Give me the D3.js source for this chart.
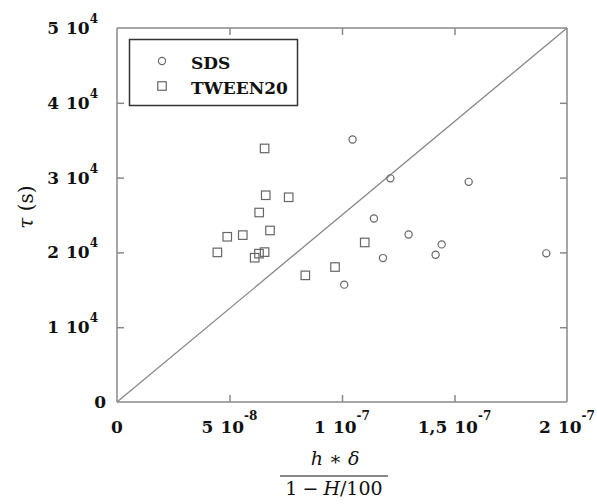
<!DOCTYPE html>
<html><head><meta charset="utf-8">
<script src="https://cdn.jsdelivr.net/npm/d3@7"></script>
<style>
body{margin:0;background:#fff;}
text{font-family:"DejaVu Serif","Liberation Serif",serif;fill:#111;}
.b{font-weight:bold;}
</style></head>
<body><svg id="c" width="597" height="504"></svg>
<script>
// SDS (circles)
const sdsX = [1.047e-7,1.215e-7,1.142e-7,1.296e-7,1.443e-7,1.416e-7,1.182e-7,1.010e-7,1.563e-7,1.908e-7];
const sdsY = [3.51e4,2.99e4,2.453e4,2.24e4,2.107e4,1.969e4,1.924e4,1.569e4,2.943e4,1.987e4];
// TWEEN20 (squares)
const tweenX = [0.656e-7,0.661e-7,0.763e-7,0.632e-7,0.490e-7,0.559e-7,0.680e-7,0.446e-7,0.631e-7,0.656e-7,0.612e-7,0.837e-7,1.101e-7,0.969e-7];
const tweenY = [3.39e4,2.764e4,2.737e4,2.533e4,2.209e4,2.231e4,2.293e4,2.0e4,1.983e4,2.004e4,1.929e4,1.693e4,2.133e4,1.804e4];
const xTicks = [0,5e-8,1e-7,1.5e-7,2e-7];
const xTickMant = ["0","5","1","1,5","2"];
const xTickExp = ["","-8","-7","-7","-7"];
const yTicks = [0,1e4,2e4,3e4,4e4,5e4];
const yTickMant = ["0","1","2","3","4","5"];
const yTickExp = ["","4","4","4","4","4"];
const legendLabels = ["SDS","TWEEN20"];
const diagLine = [[0,0],[2e-7,5e4]];

const svg = d3.select("#c");
const L=117,R=567,T=28,B=402;
const x = d3.scaleLinear().domain([0,2e-7]).range([L,R]);
const y = d3.scaleLinear().domain([0,5e4]).range([B,T]);
const axisCol="#888", markCol="#666";

// frame axes with inward ticks
const gB = svg.append("g").attr("transform",`translate(0,${B})`)
  .call(d3.axisBottom(x).tickValues(xTicks.slice(1,-1)).tickSize(-7).tickFormat(""));
const gT = svg.append("g").attr("transform",`translate(0,${T})`)
  .call(d3.axisTop(x).tickValues(xTicks.slice(1,-1)).tickSize(-7).tickFormat(""));
const gL = svg.append("g").attr("transform",`translate(${L},0)`)
  .call(d3.axisLeft(y).tickValues(yTicks.slice(1,-1)).tickSize(-7).tickFormat(""));
const gR = svg.append("g").attr("transform",`translate(${R},0)`)
  .call(d3.axisRight(y).tickValues(yTicks.slice(1,-1)).tickSize(-7).tickFormat(""));
[gB,gT,gL,gR].forEach(g=>{
  g.selectAll("path,line").attr("stroke",axisCol).attr("stroke-width",1.5);
  g.select(".domain").attr("d", g===gB||g===gT ? `M${L},0H${R}` : `M0,${T}V${B}`);
});

function label(t, mant, exp, dySup){
  t.append("tspan").text(mant);
  if(exp){
    t.append("tspan").attr("dx",7).text("10");
    t.append("tspan").attr("dy",dySup).style("font-size","12px").text(exp);
  }
}
// tick labels
xTicks.forEach((v,i)=>{
  const t = svg.append("text").attr("class","b").attr("x",x(v)).attr("y",433)
    .attr("text-anchor","middle").style("font-size","17px");
  label(t, xTickMant[i], xTickExp[i], -13);
});
yTicks.forEach((v,i)=>{
  const t = svg.append("text").attr("class","b").attr("x", yTickExp[i]?98:106).attr("y",y(v)+6)
    .attr("text-anchor","end").style("font-size","17px");
  label(t, yTickMant[i], yTickExp[i], -11);
});

// diagonal
svg.append("line").attr("x1",x(diagLine[0][0])).attr("y1",y(diagLine[0][1]))
  .attr("x2",x(diagLine[1][0])).attr("y2",y(diagLine[1][1]))
  .attr("stroke",axisCol).attr("stroke-width",1.3);

// points
svg.append("g").selectAll("circle").data(sdsX.map((v,i)=>[v,sdsY[i]])).join("circle")
  .attr("cx",d=>x(d[0])).attr("cy",d=>y(d[1])).attr("r",3.6)
  .attr("fill","none").attr("stroke",markCol).attr("stroke-width",1.2);
const s=8.5;
svg.append("g").selectAll("rect").data(tweenX.map((v,i)=>[v,tweenY[i]])).join("rect")
  .attr("x",d=>x(d[0])-s/2).attr("y",d=>y(d[1])-s/2).attr("width",s).attr("height",s)
  .attr("fill","none").attr("stroke",markCol).attr("stroke-width",1.2);

// legend
svg.append("rect").attr("x",129.5).attr("y",39.5).attr("width",168).attr("height",66)
  .attr("fill","#fff").attr("stroke","#333").attr("stroke-width",1.5);
svg.append("circle").attr("cx",162).attr("cy",61).attr("r",3.6).attr("fill","none").attr("stroke",markCol).attr("stroke-width",1.2);
svg.append("rect").attr("x",162-s/2).attr("y",86-s/2).attr("width",s).attr("height",s).attr("fill","none").attr("stroke",markCol).attr("stroke-width",1.2);
svg.append("text").attr("class","b").attr("x",191).attr("y",69).style("font-size","17px").text(legendLabels[0]);
svg.append("text").attr("class","b").attr("x",191).attr("y",94).style("font-size","17px").text(legendLabels[1]);

// y label
svg.append("text").attr("transform","translate(33,207) rotate(-90)").attr("text-anchor","middle")
  .style("font-size","20px")
  .html('<tspan font-style="italic">τ</tspan> (s)');

// x label fraction
svg.append("text").attr("x",335).attr("y",465).attr("text-anchor","middle")
  .style("font-size","19px")
  .html('<tspan font-style="italic">h</tspan> ∗ <tspan font-style="italic">δ</tspan>');
svg.append("line").attr("x1",280).attr("x2",388).attr("y1",476).attr("y2",476).attr("stroke","#111").attr("stroke-width",1.2);
svg.append("text").attr("x",334).attr("y",495).attr("text-anchor","middle")
  .style("font-size","19px")
  .html('1<tspan dx="5">−</tspan><tspan dx="5" font-style="italic">H</tspan>/100');
</script></body></html>
